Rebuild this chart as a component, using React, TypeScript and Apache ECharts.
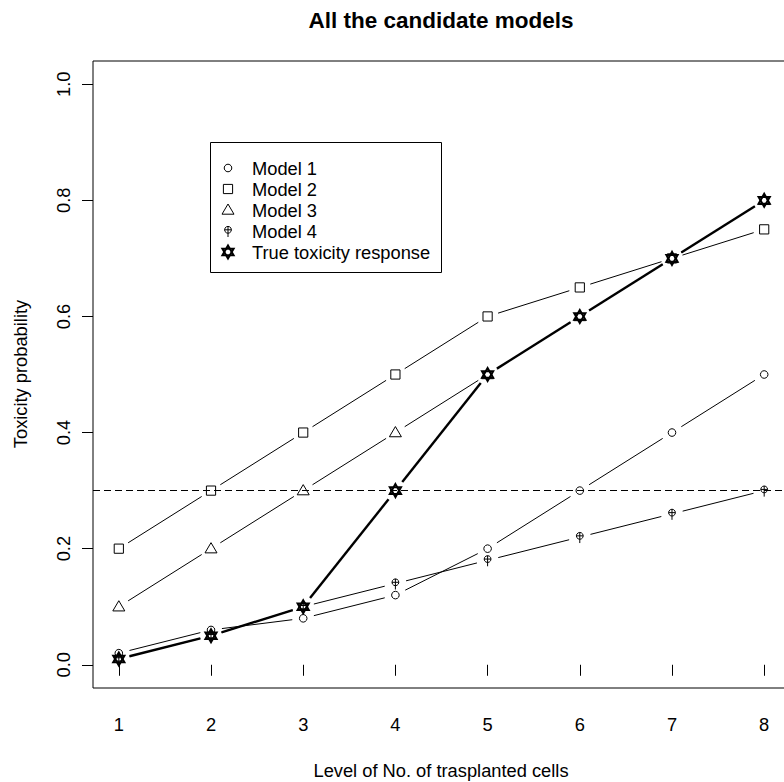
import React, { useEffect, useRef } from "react";
import * as echarts from "echarts";

const levels = [1, 2, 3, 4, 5, 6, 7, 8];
const model1 = [0.02, 0.06, 0.08, 0.12, 0.2, 0.3, 0.4, 0.5];
const model2 = [0.2, 0.3, 0.4, 0.5, 0.6, 0.65, 0.7, 0.75];
const model3 = [0.1, 0.2, 0.3, 0.4, 0.5, 0.6, 0.7, 0.8];
const model4 = [0.01, 0.05, 0.1, 0.14, 0.18, 0.22, 0.26, 0.3];
const trueTox = [0.01, 0.05, 0.1, 0.3, 0.5, 0.6, 0.7, 0.8];
const target = 0.3;
const yTicks = [0, 0.2, 0.4, 0.6, 0.8, 1.0];
const legendNames = ["Model 1", "Model 2", "Model 3", "Model 4", "True toxicity response"];

const FONT = "'Liberation Sans', Arial, Helvetica, sans-serif";

type Kind = "circle" | "square" | "triangle" | "phi" | "star";

function marker(kind: Kind, x: number, y: number, z?: number): any[] {
  const st = { fill: "none", stroke: "#000", lineWidth: 1 };
  let els: any[];
  if (kind === "circle") els = [{ type: "circle", shape: { cx: x, cy: y, r: 3.8 }, style: st }];
  else if (kind === "square")
    els = [{ type: "rect", shape: { x: x - 4.6, y: y - 4.6, width: 9.2, height: 9.2 }, style: st }];
  else if (kind === "triangle")
    els = [{ type: "polygon", shape: { points: [[x, y - 6], [x - 6, y + 4.2], [x + 6, y + 4.2]] }, style: st }];
  else if (kind === "phi")
    els = [
      { type: "circle", shape: { cx: x, cy: y - 1.2, r: 3.4 }, style: st },
      { type: "line", shape: { x1: x, y1: y - 4.6, x2: x, y2: y + 6 }, style: { stroke: "#000", lineWidth: 1 } },
      { type: "line", shape: { x1: x - 3.4, y1: y - 1.2, x2: x + 3.4, y2: y - 1.2 }, style: { stroke: "#000", lineWidth: 1 } },
    ];
  else {
    const st2 = { fill: "none", stroke: "#000", lineWidth: 2 };
    els = [
      { type: "polygon", shape: { points: [[x, y - 6.5], [x - 5.6, y + 3.3], [x + 5.6, y + 3.3]] }, style: st2 },
      { type: "polygon", shape: { points: [[x, y + 6.5], [x - 5.6, y - 3.3], [x + 5.6, y - 3.3]] }, style: st2 },
    ];
  }
  if (z !== undefined) els.forEach((e) => (e.z = z));
  return els;
}

function makeSeries(ys: number[], kind: Kind, lw: number, extra: any = {}) {
  const gap = 11;
  return {
    type: "custom",
    coordinateSystem: "cartesian2d",
    data: levels.map((l, i) => [l, ys[i]]),
    encode: { x: 0, y: 1 },
    clip: false,
    renderItem: (params: any, api: any) => {
      const i = params.dataIndex;
      const p = api.coord([levels[i], ys[i]]);
      const children: any[] = [];
      if (i < levels.length - 1) {
        const q = api.coord([levels[i + 1], ys[i + 1]]);
        const dx = q[0] - p[0];
        const dy = q[1] - p[1];
        const len = Math.sqrt(dx * dx + dy * dy);
        if (len > 2 * gap) {
          const ux = dx / len;
          const uy = dy / len;
          children.push({
            type: "line",
            shape: { x1: p[0] + ux * gap, y1: p[1] + uy * gap, x2: q[0] - ux * gap, y2: q[1] - uy * gap },
            style: { stroke: "#000", lineWidth: lw },
          });
        }
      }
      children.push(...marker(kind, p[0], p[1]));
      return { type: "group", children };
    },
    ...extra,
  };
}

export default function App() {
  const ref = useRef<HTMLDivElement>(null);
  useEffect(() => {
    if (!ref.current) return;
    const chart = echarts.init(ref.current, null, { renderer: "svg" });
    const kinds: Kind[] = ["circle", "square", "triangle", "phi", "star"];
    const legendX = 228;
    const legendTextX = 252;
    const legendY0 = 168;
    const legendDy = 21;
    const legendGraphics: any[] = [
      {
        type: "rect",
        shape: { x: 210.5, y: 142.5, width: 231, height: 130 },
        style: { fill: "#fff", stroke: "#000", lineWidth: 1 },
        z: 100,
      },
    ];
    legendNames.forEach((name, i) => {
      const y = legendY0 + i * legendDy;
      legendGraphics.push(...marker(kinds[i], legendX, y, 101));
      legendGraphics.push({
        type: "text",
        x: legendTextX,
        y,
        z: 101,
        style: { text: name, font: `18.3px ${FONT}`, fill: "#000", textVerticalAlign: "middle", verticalAlign: "middle" },
      });
    });

    chart.setOption({
      animation: false,
      backgroundColor: "#fff",
      grid: {
        left: 93,
        top: 61,
        width: 697,
        height: 627,
        show: true,
        borderColor: "#000",
        borderWidth: 1,
        backgroundColor: "transparent",
        containLabel: false,
        outerBoundsMode: "none",
      },
      xAxis: {
        type: "value",
        min: 0.72,
        max: 8.28,
        splitLine: { show: false },
        axisLine: { show: false },
        axisTick: { show: true, inside: false, length: 11, customValues: levels, lineStyle: { color: "#000", width: 1 } },
        axisLabel: {
          customValues: levels,
          margin: 27,
          color: "#000",
          fontSize: 18.3,
          fontFamily: FONT,
          formatter: (v: number) => String(v),
        },
      },
      yAxis: {
        type: "value",
        min: -0.04,
        max: 1.04,
        splitLine: { show: false },
        axisLine: { show: false },
        axisTick: { show: true, inside: false, length: 11, customValues: yTicks, lineStyle: { color: "#000", width: 1 } },
        axisLabel: {
          customValues: yTicks,
          rotate: 90,
          margin: 21,
          color: "#000",
          fontSize: 18.3,
          fontFamily: FONT,
          formatter: (v: number) => v.toFixed(1),
        },
      },
      series: [
        makeSeries(model1, "circle", 1, {
          markLine: {
            silent: true,
            symbol: "none",
            label: { show: false },
            lineStyle: { color: "#000", type: [7, 4], width: 1 },
            data: [{ yAxis: target }],
          },
        }),
        makeSeries(model2, "square", 1),
        makeSeries(model3, "triangle", 1),
        makeSeries(model4, "phi", 1),
        makeSeries(trueTox, "star", 2.4),
      ],
      graphic: [
        {
          type: "text",
          x: 441,
          y: 20,
          style: {
            text: "All the candidate models",
            font: `bold 22.5px ${FONT}`,
            fill: "#000",
            textAlign: "center",
            textVerticalAlign: "middle",
            align: "center",
            verticalAlign: "middle",
          },
        },
        {
          type: "text",
          x: 441,
          y: 770,
          style: {
            text: "Level of No. of trasplanted cells",
            font: `18.3px ${FONT}`,
            fill: "#000",
            textAlign: "center",
            textVerticalAlign: "middle",
            align: "center",
            verticalAlign: "middle",
          },
        },
        {
          type: "text",
          x: 20,
          y: 374,
          rotation: Math.PI / 2,
          style: {
            text: "Toxicity probability",
            font: `18.3px ${FONT}`,
            fill: "#000",
            textAlign: "center",
            textVerticalAlign: "middle",
            align: "center",
            verticalAlign: "middle",
          },
        },
        ...legendGraphics,
      ],
    });
    return () => chart.dispose();
  }, []);
  return (
    <div
      ref={ref}
      style={{ position: "absolute", left: 0, top: 0, width: 784, height: 782, background: "#fff" }}
    />
  );
}
